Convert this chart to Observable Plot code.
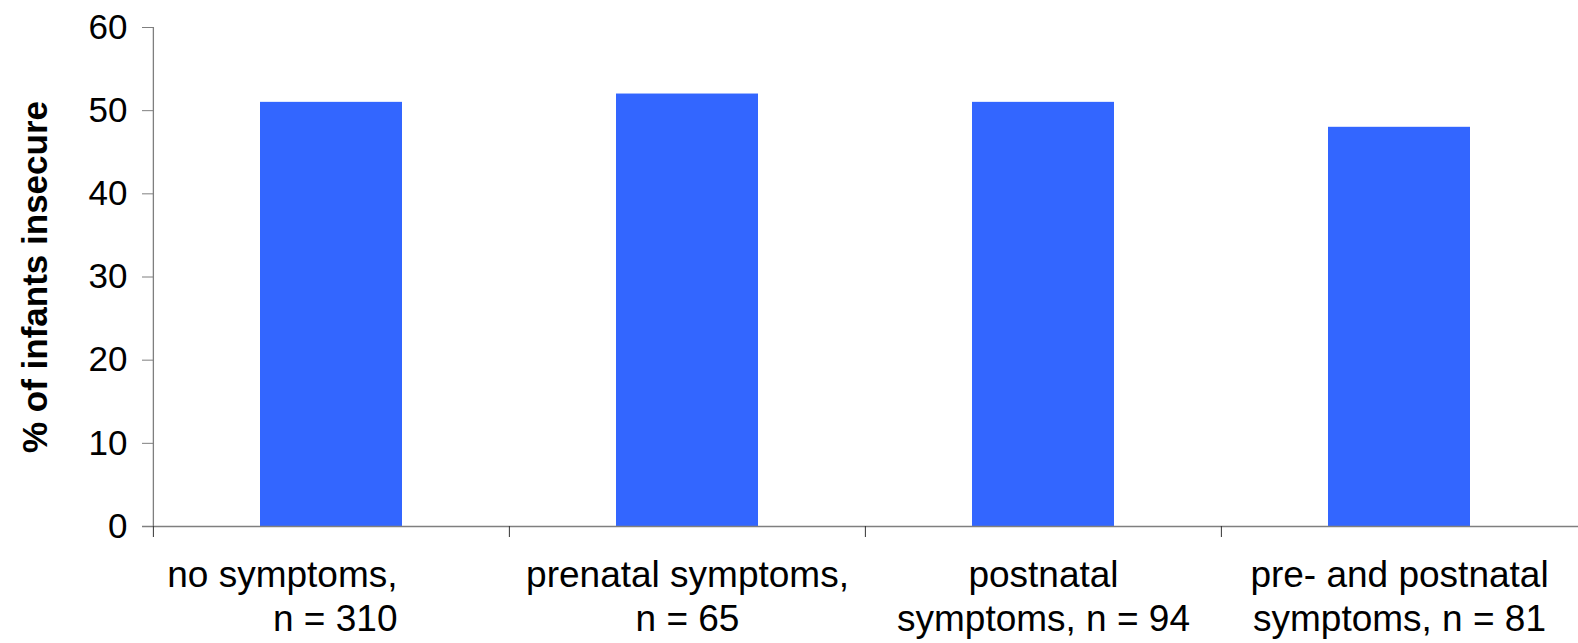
<!DOCTYPE html>
<html>
<head>
<meta charset="utf-8">
<script src="https://cdn.jsdelivr.net/npm/d3@7"></script>
<script src="https://cdn.jsdelivr.net/npm/@observablehq/plot@0.6"></script>
<style>
  html, body { margin: 0; padding: 0; background: #fff; }
  #chart svg { display: block; font-family: "Liberation Sans", Arial, sans-serif; }
</style>
</head>
<body>
<div id="chart"></div>
<script>
// Share of insecurely attached infants by maternal symptom group
const groups = ["no symptoms", "prenatal symptoms", "postnatal symptoms", "pre- and postnatal symptoms"];
const groupLabels = [
  "no symptoms,\nn = 310",
  "prenatal symptoms,\nn = 65",
  "postnatal\nsymptoms, n = 94",
  "pre- and postnatal\nsymptoms, n = 81"
];
const insecurePct = [51, 52, 51, 48];
const yTicks = [0, 10, 20, 30, 40, 50, 60];
const yLabel = "% of infants insecure";

const rows = groups.map((g, i) => ({group: g, label: groupLabels[i], value: insecurePct[i]}));
const labelOf = new Map(rows.map(d => [d.group, d.label]));

const width = 1578, height = 643;
const marginLeft = 153, marginRight = 0, marginTop = 27, marginBottom = 117;
const band = (width - marginLeft - marginRight) / groups.length;
const axisGray = "#7f7f7f";
const font = "Liberation Sans, Arial, sans-serif";
const labelSize = 37;

const chart = Plot.plot({
  width, height, marginLeft, marginRight, marginTop, marginBottom,
  style: {fontFamily: font, background: "#fff"},
  x: {domain: groups, paddingInner: 0.6, paddingOuter: 0.3, axis: null},
  y: {domain: [0, 60], axis: null},
  marks: [
    Plot.barY(rows, {x: "group", y: "value", fill: "#3366ff"}),
    // value axis: ticks and numbers
    Plot.axisY({ticks: yTicks, tickSize: 11, tickPadding: 15, stroke: axisGray, fontSize: 35, fill: "#000", label: null}),
    // value axis title
    Plot.axisY({ticks: [], label: yLabel, labelAnchor: "center", labelArrow: "none", labelOffset: 131,
                fontSize: 35, fontWeight: "bold", fill: "#000"}),
    // value axis line at the left edge of the first band
    Plot.ruleX([groups[0]], {x: d => d, y1: 0, y2: 60, dx: -band / 2, stroke: axisGray, strokeWidth: 1.3}),
    // category baseline
    Plot.ruleY([0], {stroke: axisGray, strokeWidth: 1.3, insetLeft: -11}),
    // band boundary ticks
    Plot.axisX({ticks: groups, tickSize: 11, tickFormat: () => "", dx: -band / 2, stroke: "#333", label: null}),
    // category labels
    Plot.axisX({ticks: groups.slice(0, 1), tickSize: 0, tickPadding: 29, tickFormat: g => labelOf.get(g),
                textAnchor: "end", dx: 66, lineHeight: 1.2, fontSize: labelSize, fill: "#000", label: null}),
    Plot.axisX({ticks: groups.slice(1), tickSize: 0, tickPadding: 29, tickFormat: g => labelOf.get(g),
                lineHeight: 1.2, fontSize: labelSize, fill: "#000", label: null})
  ]
});

document.getElementById("chart").append(chart);
</script>
</body>
</html>
